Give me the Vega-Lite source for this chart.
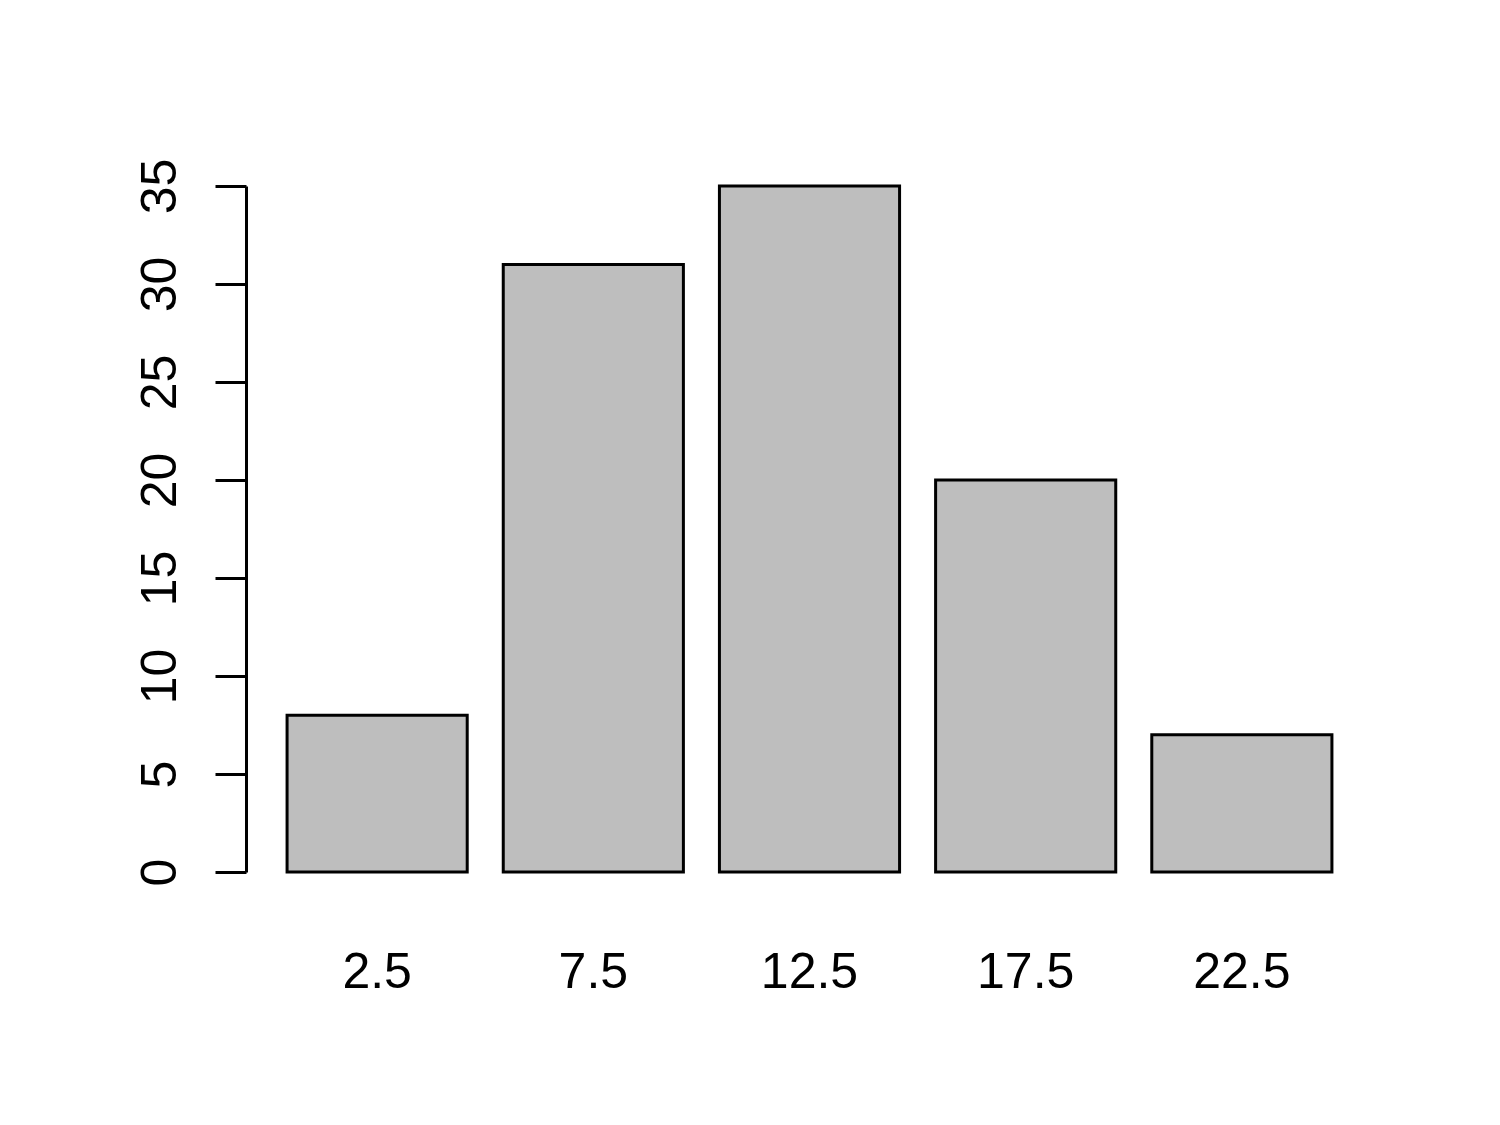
{
  "$schema": "https://vega.github.io/schema/vega-lite/v6.json",
  "autosize": "none",
  "width": 1127,
  "height": 686,
  "padding": {"left": 246, "top": 186, "right": 127, "bottom": 253},
  "background": "white",
  "config": {
    "view": {"stroke": null},
    "font": "Liberation Sans"
  },
  "data": {
    "values": [
      {"bin": "2.5", "count": 8},
      {"bin": "7.5", "count": 31},
      {"bin": "12.5", "count": 35},
      {"bin": "17.5", "count": 20},
      {"bin": "22.5", "count": 7}
    ]
  },
  "mark": {"type": "bar", "fill": "#BEBEBE", "stroke": "black", "strokeWidth": 3},
  "encoding": {
    "x": {
      "field": "bin",
      "type": "ordinal",
      "sort": null,
      "scale": {"paddingInner": 0.1667, "paddingOuter": 0.19},
      "axis": {
        "title": null,
        "domain": false,
        "ticks": false,
        "tickSize": 0,
        "labelAngle": 0,
        "labelFontSize": 50,
        "labelColor": "black",
        "labelFont": "Liberation Sans",
        "labelBaseline": "alphabetic",
        "labelPadding": 115
      }
    },
    "y": {
      "field": "count",
      "type": "quantitative",
      "scale": {"domain": [0, 35], "nice": false, "zero": true},
      "axis": {
        "title": null,
        "grid": false,
        "values": [0, 5, 10, 15, 20, 25, 30, 35],
        "domainColor": "black",
        "domainWidth": 3,
        "tickColor": "black",
        "tickWidth": 3,
        "tickSize": 31,
        "labelAngle": -90,
        "labelAlign": "center",
        "labelBaseline": "alphabetic",
        "labelPadding": 40,
        "labelFontSize": 50,
        "labelColor": "black",
        "labelFont": "Liberation Sans"
      }
    }
  }
}
